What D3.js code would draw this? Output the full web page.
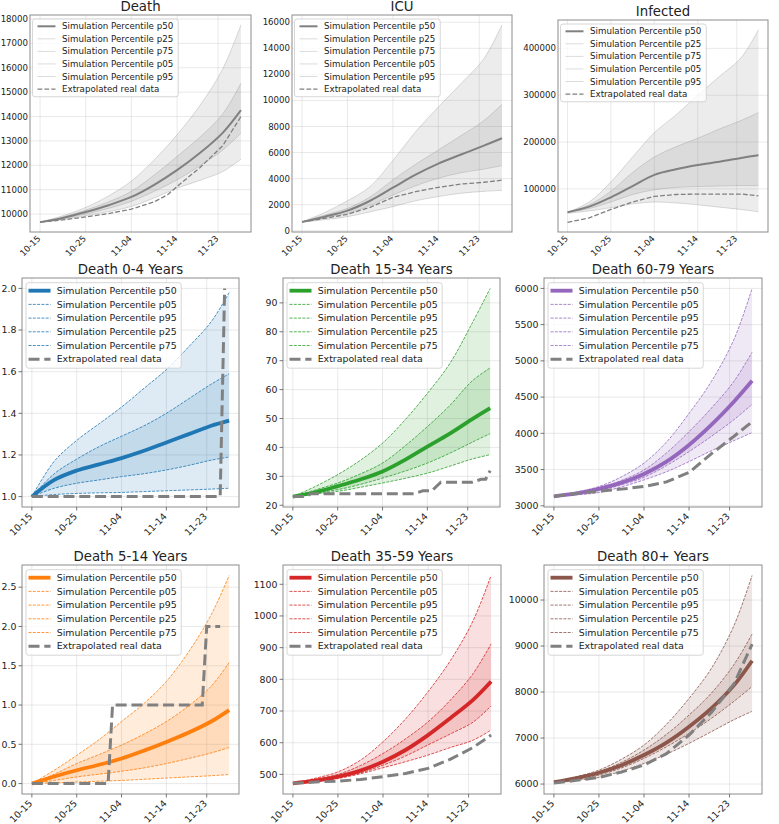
<!DOCTYPE html>
<html><head><meta charset="utf-8">
<script src="https://cdn.jsdelivr.net/npm/d3@7"></script>
<style>
body{margin:0;background:#fff}
svg{display:block}
text{font-family:"DejaVu Sans",sans-serif;fill:#222}
</style>
</head><body>
<svg id="c" width="779" height="824"></svg>
<script>
// ---------------- DATA ----------------
const xTickIdx = [0, 10, 20, 30, 39];
const xTickLabels = ['10-15', '10-25', '11-04', '11-14', '11-23'];
const simX = [0, 5, 10, 15, 20, 25, 30, 35, 40, 44];

// Death (total)
const deathP50 = [9667, 9840, 10080, 10360, 10700, 11200, 11800, 12500, 13330, 14260];
const deathP25 = [9667, 9810, 10000, 10230, 10520, 10930, 11400, 11980, 12620, 13320];
const deathP75 = [9667, 9880, 10160, 10500, 10930, 11600, 12360, 13150, 14100, 15370];
const deathP05 = [9667, 9780, 9930, 10100, 10310, 10660, 11060, 11380, 11740, 12250];
const deathP95 = [9667, 9930, 10270, 10740, 11350, 12220, 13250, 14450, 15950, 17760];
const deathRealX = [0, 5, 10, 15, 20, 25, 28, 30, 35, 40, 44];
const deathReal = [9667, 9760, 9880, 10020, 10200, 10500, 10800, 11130, 11900, 12800, 14000];
const deathYTicks = [10000, 11000, 12000, 13000, 14000, 15000, 16000, 17000, 18000];

// ICU
const icuP50 = [680, 1080, 1540, 2300, 3300, 4300, 5150, 5850, 6530, 7100];
const icuP25 = [680, 1000, 1330, 1950, 2740, 3450, 4030, 4450, 4730, 5000];
const icuP75 = [680, 1200, 1720, 2600, 3900, 5100, 6200, 7300, 8450, 9700];
const icuP05 = [660, 850, 1080, 1450, 1850, 2300, 2620, 2880, 3020, 3100];
const icuP95 = [680, 1400, 2300, 3400, 5400, 7600, 9500, 11300, 13200, 15800];
const icuRealX = simX;
const icuReal = [680, 950, 1260, 1800, 2560, 3000, 3330, 3580, 3720, 3880];
const icuYTicks = [0, 2000, 4000, 6000, 8000, 10000, 12000, 14000, 16000];

// Infected
const infP50 = [50000, 62000, 82000, 106000, 130000, 142000, 151000, 158000, 166000, 172000];
const infP25 = [50000, 58000, 72000, 88000, 98000, 103000, 105000, 106000, 107000, 107000];
const infP75 = [50000, 66000, 95000, 135000, 168000, 190000, 208000, 228000, 246000, 263000];
const infP05 = [48000, 53000, 60000, 68000, 72000, 70000, 66000, 61000, 56000, 51000];
const infP95 = [50000, 72000, 115000, 168000, 220000, 258000, 300000, 340000, 380000, 440000];
const infRealX = simX;
const infReal = [28500, 38000, 56000, 72000, 84000, 88000, 89000, 89000, 89000, 85000];
const infYTicks = [100000, 200000, 300000, 400000];

// Death 0-4
const d04P50 = [1.0, 1.08, 1.125, 1.155, 1.185, 1.22, 1.26, 1.30, 1.34, 1.365];
const d04P05 = [1.0, 1.01, 1.015, 1.018, 1.02, 1.024, 1.028, 1.032, 1.036, 1.04];
const d04P95 = [1.0, 1.17, 1.27, 1.35, 1.43, 1.52, 1.61, 1.72, 1.84, 1.98];
const d04P25 = [1.0, 1.04, 1.064, 1.08, 1.096, 1.11, 1.128, 1.15, 1.175, 1.19];
const d04P75 = [1.0, 1.11, 1.18, 1.24, 1.29, 1.34, 1.40, 1.47, 1.54, 1.59];
const d04RealX = [0, 42, 43];
const d04Real = [1, 1, 2];
const d04YTicks = [1.0, 1.2, 1.4, 1.6, 1.8, 2.0];

// Death 15-34
const d1534P50 = [23, 24.5, 26.6, 28.9, 31.7, 35.7, 40.3, 44.8, 49.8, 53.6];
const d1534P05 = [23, 23.9, 24.8, 26.2, 27.7, 29.3, 31.1, 33.5, 36, 37.5];
const d1534P95 = [23, 26.5, 30.6, 35.5, 41.5, 49.5, 58.7, 69, 83, 95];
const d1534P25 = [23, 24.2, 25.4, 27.2, 29.4, 31.8, 34.6, 38, 41.8, 44.8];
const d1534P75 = [23, 25.3, 27.7, 30.8, 34.6, 40.5, 47.2, 54.5, 63, 67.5];
const d1534RealX = [0, 3, 4, 27, 29, 31, 33, 40, 42, 43, 44];
const d1534Real = [23, 23, 24, 24, 25, 25, 28, 28, 29, 29, 32];
const d1534YTicks = [20, 30, 40, 50, 60, 70, 80, 90];

// Death 60-79
const d6079P50 = [3130, 3170, 3234, 3320, 3440, 3610, 3840, 4120, 4440, 4725];
const d6079P05 = [3127, 3150, 3183, 3260, 3358, 3470, 3610, 3760, 3900, 4010];
const d6079P95 = [3130, 3190, 3266, 3400, 3590, 3880, 4275, 4720, 5300, 6000];
const d6079P25 = [3130, 3165, 3211, 3290, 3394, 3555, 3748, 3960, 4190, 4400];
const d6079P75 = [3130, 3180, 3243, 3350, 3495, 3730, 4023, 4350, 4720, 5120];
const d6079RealX = simX;
const d6079Real = [3130, 3170, 3200, 3230, 3266, 3330, 3460, 3720, 3960, 4160];
const d6079YTicks = [3000, 3500, 4000, 4500, 5000, 5500, 6000];

// Death 5-14
const d514P50 = [0, 0.09, 0.17, 0.24, 0.32, 0.42, 0.53, 0.65, 0.79, 0.935];
const d514P05 = [0, 0.01, 0.02, 0.03, 0.04, 0.055, 0.07, 0.085, 0.1, 0.115];
const d514P95 = [0, 0.17, 0.36, 0.56, 0.79, 1.02, 1.30, 1.68, 2.15, 2.65];
const d514P25 = [0, 0.04, 0.085, 0.12, 0.157, 0.2, 0.255, 0.32, 0.39, 0.46];
const d514P75 = [0, 0.12, 0.255, 0.37, 0.49, 0.63, 0.79, 0.99, 1.24, 1.54];
const d514RealX = [0, 17, 18, 38, 39, 42];
const d514Real = [0, 0, 1, 1, 2, 2];
const d514YTicks = [0.0, 0.5, 1.0, 1.5, 2.0, 2.5];

// Death 35-59
const d3559P50 = [472, 480, 493, 512, 540, 577, 624, 678, 735, 793];
const d3559P05 = [471, 477, 487, 502, 521, 540, 561, 585, 608, 640];
const d3559P95 = [472, 488, 508, 545, 603, 675, 761, 860, 985, 1128];
const d3559P25 = [472, 478, 489, 505, 529, 558, 593, 628, 665, 716];
const d3559P75 = [472, 485, 500, 528, 566, 612, 666, 735, 818, 912];
const d3559RealX = simX;
const d3559Real = [472, 476, 479, 484, 493, 503, 519, 548, 585, 624];
const d3559YTicks = [500, 600, 700, 800, 900, 1000, 1100];

// Death 80+
const d80P50 = [6040, 6130, 6246, 6410, 6630, 6900, 7246, 7650, 8150, 8680];
const d80P05 = [6010, 6080, 6145, 6280, 6449, 6650, 6884, 7140, 7400, 7580];
const d80P95 = [6040, 6160, 6304, 6540, 6848, 7300, 7862, 8520, 9450, 10535];
const d80P25 = [6040, 6110, 6196, 6350, 6558, 6810, 7101, 7430, 7800, 8120];
const d80P75 = [6040, 6140, 6268, 6470, 6739, 7080, 7500, 7980, 8600, 9260];
const d80RealX = simX;
const d80Real = [6020, 6080, 6145, 6260, 6413, 6660, 7065, 7560, 8180, 9040];
const d80YTicks = [6000, 7000, 8000, 9000, 10000];

// ---------------- PANELS ----------------
const panels = [
  {title:'Death', top:true, color:'#808080', box:{l:30,r:251,t:15,b:232}, yTicks:deathYTicks, fmt:'d',
   p50:deathP50, p05:deathP05, p95:deathP95, p25:deathP25, p75:deathP75, realX:deathRealX, real:deathReal},
  {title:'ICU', top:true, color:'#808080', box:{l:292,r:512,t:15,b:232}, yTicks:icuYTicks, fmt:'d',
   p50:icuP50, p05:icuP05, p95:icuP95, p25:icuP25, p75:icuP75, realX:icuRealX, real:icuReal},
  {title:'Infected', top:true, color:'#808080', box:{l:558,r:768,t:20,b:232}, yTicks:infYTicks, fmt:'d',
   p50:infP50, p05:infP05, p95:infP95, p25:infP25, p75:infP75, realX:infRealX, real:infReal},
  {title:'Death 0-4 Years', color:'#1f77b4', box:{l:22,r:239,t:278,b:507}, yTicks:d04YTicks, fmt:'.1f',
   p50:d04P50, p05:d04P05, p95:d04P95, p25:d04P25, p75:d04P75, realX:d04RealX, real:d04Real},
  {title:'Death 15-34 Years', color:'#2ca02c', box:{l:283,r:500,t:278,b:507}, yTicks:d1534YTicks, fmt:'d',
   p50:d1534P50, p05:d1534P05, p95:d1534P95, p25:d1534P25, p75:d1534P75, realX:d1534RealX, real:d1534Real},
  {title:'Death 60-79 Years', color:'#9467bd', box:{l:544,r:762,t:278,b:507}, yTicks:d6079YTicks, fmt:'d',
   p50:d6079P50, p05:d6079P05, p95:d6079P95, p25:d6079P25, p75:d6079P75, realX:d6079RealX, real:d6079Real},
  {title:'Death 5-14 Years', color:'#ff7f0e', box:{l:22,r:239,t:565,b:794}, yTicks:d514YTicks, fmt:'.1f',
   p50:d514P50, p05:d514P05, p95:d514P95, p25:d514P25, p75:d514P75, realX:d514RealX, real:d514Real},
  {title:'Death 35-59 Years', color:'#d62728', box:{l:283,r:501,t:565,b:794}, yTicks:d3559YTicks, fmt:'d',
   p50:d3559P50, p05:d3559P05, p95:d3559P95, p25:d3559P25, p75:d3559P75, realX:d3559RealX, real:d3559Real},
  {title:'Death 80+ Years', color:'#8c564b', box:{l:544,r:762,t:565,b:794}, yTicks:d80YTicks, fmt:'d',
   p50:d80P50, p05:d80P05, p95:d80P95, p25:d80P25, p75:d80P75, realX:d80RealX, real:d80Real},
];

const svg = d3.select('#c');
const GRAY = '#808080';

panels.forEach((p, i) => {
  const B = p.box;
  const g = svg.append('g');
  const all = [].concat(p.p50, p.p05, p.p95, p.p25, p.p75, p.real);
  const lo = d3.min(all), hi = d3.max(all), pad = (hi - lo) * 0.05;
  const x = d3.scaleLinear().domain([-2.2, 46.2]).range([B.l, B.r]);
  const y = d3.scaleLinear().domain([lo - pad, hi + pad]).range([B.b, B.t]);
  const tickFs = p.top ? 8.6 : 9.4;

  const clipId = 'clip' + i;
  g.append('clipPath').attr('id', clipId).append('rect')
    .attr('x', B.l).attr('y', B.t).attr('width', B.r - B.l).attr('height', B.b - B.t);

  // grid
  g.selectAll('.gy').data(p.yTicks).join('line')
    .attr('x1', B.l).attr('x2', B.r).attr('y1', d => y(d)).attr('y2', d => y(d))
    .attr('stroke', '#b0b0b0').attr('stroke-opacity', 0.35).attr('stroke-width', 0.8);
  g.selectAll('.gx').data(xTickIdx).join('line')
    .attr('y1', B.t).attr('y2', B.b).attr('x1', d => x(d)).attr('x2', d => x(d))
    .attr('stroke', '#b0b0b0').attr('stroke-opacity', 0.35).attr('stroke-width', 0.8);

  const plot = g.append('g').attr('clip-path', `url(#${clipId})`);
  const idx = d3.range(simX.length);
  const curve = d3.curveCatmullRom.alpha(0.5);
  const band = (a, b) => d3.area().curve(curve).x(k => x(simX[k])).y0(k => y(a[k])).y1(k => y(b[k]))(idx);
  plot.append('path').attr('d', band(p.p05, p.p95)).attr('fill', p.color).attr('fill-opacity', 0.15);
  plot.append('path').attr('d', band(p.p25, p.p75)).attr('fill', p.color).attr('fill-opacity', 0.15);

  const lineOf = arr => d3.line().curve(curve).x(k => x(simX[k])).y(k => y(arr[k]))(idx);
  const pctStyle = sel => p.top
    ? sel.attr('stroke', GRAY).attr('stroke-opacity', 0.35).attr('stroke-width', 0.8)
    : sel.attr('stroke', p.color).attr('stroke-width', 0.8).attr('stroke-dasharray', '3,1.3');
  const p50Style = sel => sel.attr('stroke', p.color).attr('stroke-width', p.top ? 2 : 3.8);
  const realStyle = sel => p.top
    ? sel.attr('stroke', GRAY).attr('stroke-width', 1.3).attr('stroke-dasharray', '4.8,2.1')
    : sel.attr('stroke', GRAY).attr('stroke-width', 3).attr('stroke-dasharray', '11,4.8');

  [p.p05, p.p95, p.p25, p.p75].forEach(arr => {
    plot.append('path').attr('d', lineOf(arr)).attr('fill', 'none').call(pctStyle);
  });
  plot.append('path').attr('d', lineOf(p.p50)).attr('fill', 'none').call(p50Style);
  const ridx = d3.range(p.realX.length);
  plot.append('path')
    .attr('d', d3.line().x(k => x(p.realX[k])).y(k => y(p.real[k]))(ridx))
    .attr('fill', 'none').call(realStyle);

  // frame
  g.append('rect').attr('x', B.l).attr('y', B.t).attr('width', B.r - B.l).attr('height', B.b - B.t)
    .attr('fill', 'none').attr('stroke', '#8c8c8c').attr('stroke-width', 1);

  // ticks
  const fmt = d3.format(p.fmt);
  const tl = p.top ? 0 : 3.5;
  if (tl > 0) {
    g.selectAll('.ty').data(p.yTicks).join('line')
      .attr('x1', B.l - tl).attr('x2', B.l).attr('y1', d => y(d)).attr('y2', d => y(d))
      .attr('stroke', '#555').attr('stroke-width', 0.8);
    g.selectAll('.tx').data(xTickIdx).join('line')
      .attr('y1', B.b).attr('y2', B.b + tl).attr('x1', d => x(d)).attr('x2', d => x(d))
      .attr('stroke', '#555').attr('stroke-width', 0.8);
  }
  g.selectAll('.yl').data(p.yTicks).join('text')
    .attr('x', B.l - (p.top ? 2 : 5.5)).attr('y', d => y(d)).attr('dy', '0.35em')
    .attr('text-anchor', 'end').attr('font-size', tickFs).text(d => fmt(d));
  g.selectAll('.xl').data(xTickIdx).join('text')
    .attr('text-anchor', 'end').attr('font-size', tickFs)
    .attr('transform', (d) => `translate(${x(d) + 1},${B.b + (p.top ? 7 : 10)}) rotate(-45)`)
    .text((d, j) => xTickLabels[j]);

  // title
  g.append('text').attr('x', (B.l + B.r) / 2).attr('y', B.t - 4).attr('text-anchor', 'middle')
    .attr('font-size', 13.3).text(p.title);

  // legend
  const order = p.top
    ? [['p50', p50Style], ['p25', pctStyle], ['p75', pctStyle], ['p05', pctStyle], ['p95', pctStyle]]
    : [['p50', p50Style], ['p05', pctStyle], ['p95', pctStyle], ['p25', pctStyle], ['p75', pctStyle]];
  const items = order.map(([k, st]) => ({label: 'Simulation Percentile ' + k, st}));
  items.push({label: 'Extrapolated real data', st: realStyle});
  const lg = p.top
    ? {fs: 8.7, rowH: 12.55, bx: B.l + 2.5, by: B.t + 4, first: 7.3, h0: 5, h1: 23, tx: 29.5, padR: 5, padB: 7.7}
    : {fs: 9.4, rowH: 13.7, bx: B.l + 4, by: B.t + 4.7, first: 8, h0: 2.5, h1: 24.5, tx: 30.7, padR: 4.5, padB: 9};
  const leg = g.append('g');
  const rect = leg.append('rect').attr('x', lg.bx).attr('y', lg.by).attr('rx', 2.5)
    .attr('fill', '#fff').attr('fill-opacity', 0.8).attr('stroke', '#cccccc').attr('stroke-width', 0.8);
  let maxW = 0;
  items.forEach((it, j) => {
    const cy = lg.by + lg.first + j * lg.rowH;
    leg.append('line').attr('x1', lg.bx + lg.h0).attr('x2', lg.bx + lg.h1)
      .attr('y1', cy).attr('y2', cy).call(it.st);
    const t = leg.append('text').attr('x', lg.bx + lg.tx).attr('y', cy).attr('dy', '0.35em')
      .attr('font-size', lg.fs).text(it.label);
    maxW = Math.max(maxW, t.node().getComputedTextLength());
  });
  rect.attr('width', lg.tx + maxW + lg.padR)
    .attr('height', lg.first + (items.length - 1) * lg.rowH + lg.padB);
});
</script>
</body></html>
